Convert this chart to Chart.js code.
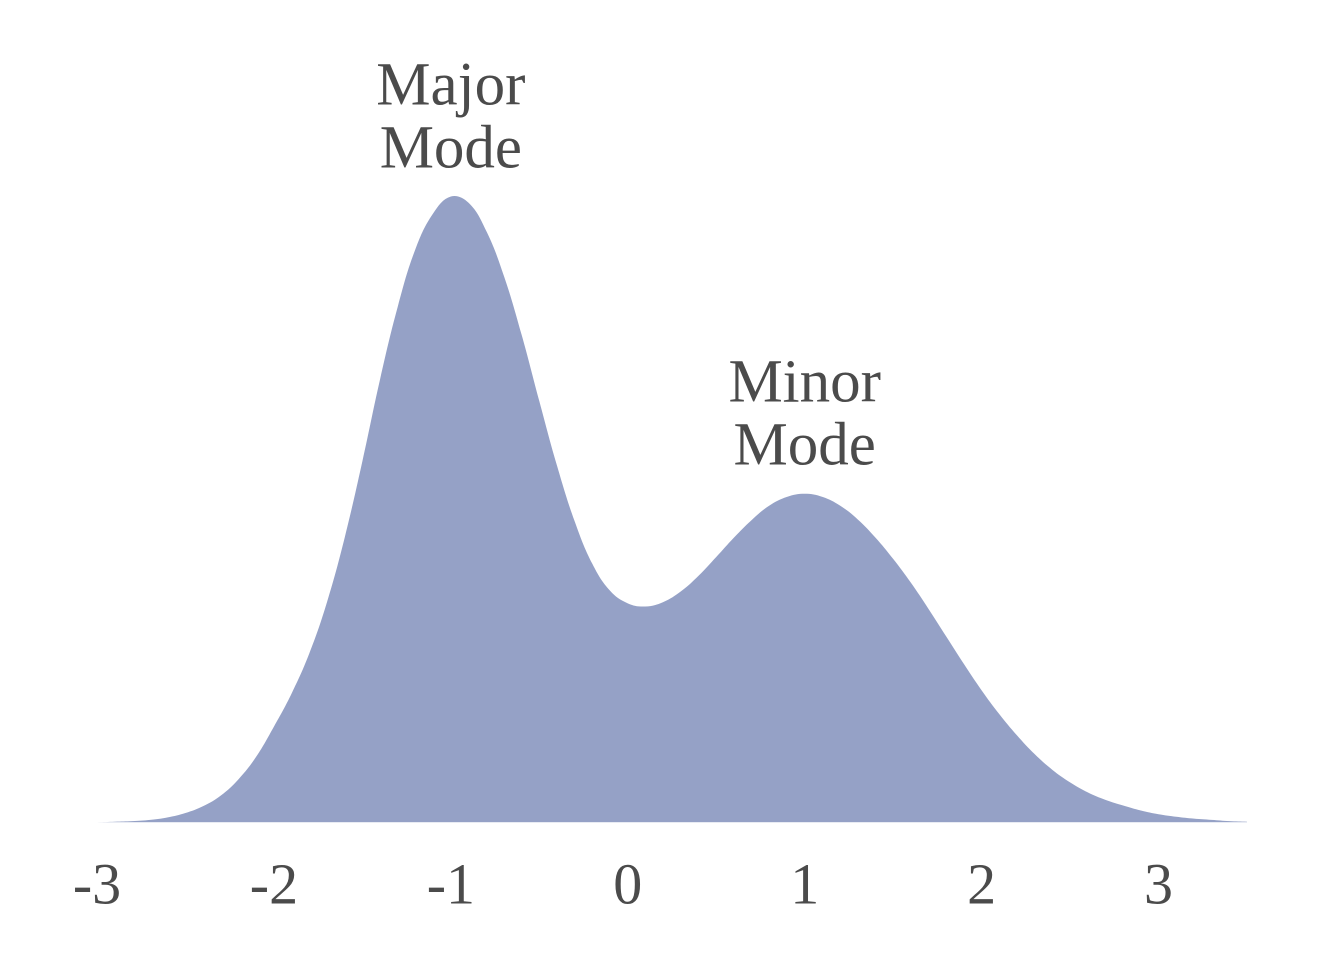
<!DOCTYPE html>
<html>
<head>
<meta charset="utf-8">
<style>
  html, body { margin: 0; padding: 0; background: #ffffff; }
  #wrap { width: 1344px; height: 960px; }
</style>
<script src="https://cdn.jsdelivr.net/npm/chart.js@4.4.1/dist/chart.umd.min.js"></script>
</head>
<body>
<div id="wrap"><canvas id="c" width="1344" height="960"></canvas></div>
<script>
// Grid of x values (read at 0.1 steps) and estimated density heights (relative to major peak)
const xValues = [
  -3.0, -2.9, -2.8, -2.7, -2.6, -2.5, -2.4, -2.3, -2.2, -2.1,
  -2.0, -1.9, -1.8, -1.7, -1.6, -1.5, -1.4, -1.3, -1.2, -1.1,
  -1.0, -0.9, -0.8, -0.7, -0.6, -0.5, -0.4, -0.3, -0.2, -0.1,
   0.0,  0.1,  0.2,  0.3,  0.4,  0.5,  0.6,  0.7,  0.8,  0.9,
   1.0,  1.1,  1.2,  1.3,  1.4,  1.5,  1.6,  1.7,  1.8,  1.9,
   2.0,  2.1,  2.2,  2.3,  2.4,  2.5,  2.6,  2.7,  2.8,  2.9,
   3.0,  3.1,  3.2,  3.3,  3.4,  3.5
];
const densityValues = [
  0.000, 0.001, 0.002, 0.004, 0.008, 0.015, 0.026, 0.043, 0.069, 0.105,
  0.153, 0.206, 0.270, 0.352, 0.455, 0.577, 0.708, 0.824, 0.916, 0.973,
  1.000, 0.990, 0.945, 0.873, 0.779, 0.673, 0.570, 0.481, 0.413, 0.370,
  0.350, 0.345, 0.352, 0.369, 0.394, 0.424, 0.455, 0.483, 0.506, 0.520,
  0.525, 0.520, 0.506, 0.484, 0.455, 0.421, 0.383, 0.341, 0.297, 0.253,
  0.211, 0.173, 0.139, 0.109, 0.084, 0.064, 0.048, 0.036, 0.027, 0.019,
  0.013, 0.009, 0.006, 0.004, 0.002, 0.001
];
const tickValues = [-3, -2, -1, 0, 1, 2, 3];

// Annotation labels: text lines and anchor (data coords of the lower line)
const annotTexts = [["Major", "Mode"], ["Minor", "Mode"]];
const annotX = [-1.0, 1.0];
const annotY = [1.072, 0.597];

const points = xValues.map((x, i) => ({ x: x, y: densityValues[i] }));

const TEXT_COLOR = '#4b4b4b';
const FILL_COLOR = 'rgb(149,161,198)';
const FONT_FAMILY = '"Liberation Serif", "DejaVu Serif", serif';

const annotPlugin = {
  id: 'modeLabels',
  afterDatasetsDraw(chart) {
    const ctx = chart.ctx;
    const xs = chart.scales.x, ys = chart.scales.y;
    ctx.save();
    ctx.fillStyle = TEXT_COLOR;
    ctx.font = '61px ' + FONT_FAMILY;
    ctx.textAlign = 'center';
    ctx.textBaseline = 'middle';
    const lineGap = 63;
    annotTexts.forEach((lines, i) => {
      const px = xs.getPixelForValue(annotX[i]);
      const py = ys.getPixelForValue(annotY[i]);
      for (let k = 0; k < lines.length; k++) {
        const off = (lines.length - 1 - k) * lineGap;
        ctx.fillText(lines[k], px, py - off);
      }
    });
    ctx.restore();
  }
};

new Chart(document.getElementById('c'), {
  type: 'line',
  data: {
    datasets: [{
      data: points,
      fill: 'origin',
      backgroundColor: FILL_COLOR,
      borderWidth: 0,
      borderColor: 'rgba(0,0,0,0)',
      pointRadius: 0,
      tension: 0.4
    }]
  },
  options: {
    responsive: false,
    animation: false,
    devicePixelRatio: 2,
    layout: { padding: { left: 97, right: 97, top: 40, bottom: 6 } },
    plugins: { legend: { display: false }, tooltip: { enabled: false } },
    scales: {
      x: {
        type: 'linear',
        min: -3,
        max: 3.5,
        grid: { display: false, drawTicks: false },
        border: { display: false },
        afterBuildTicks: (axis) => { axis.ticks = tickValues.map(v => ({ value: v })); },
        ticks: {
          padding: 31,
          color: TEXT_COLOR,
          font: { family: FONT_FAMILY, size: 58 },
          maxRotation: 0,
          autoSkip: false,
          callback: (v) => String(v)
        }
      },
      y: {
        display: false,
        min: 0,
        max: 1.25
      }
    }
  },
  plugins: [annotPlugin]
});
</script>
</body>
</html>
